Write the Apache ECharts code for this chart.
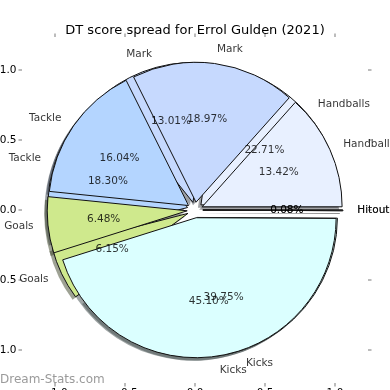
<!DOCTYPE html>
<html><head><meta charset="utf-8">
<script src="https://cdn.jsdelivr.net/npm/echarts@6/dist/echarts.min.js"></script>
<style>html,body{margin:0;padding:0;background:#fff}#c{width:390px;height:390px}</style>
</head><body><div id="c"></div>
<script>
const titleText = 'DT score spread for Errol Gulden (2021)';
const categoriesA = ['Handballs', 'Mark', 'Tackle', 'Goals', 'Kicks', 'Hitout'];
const valuesA = [22.71, 13.01, 18.30, 6.15, 39.75, 0.08];
const categoriesB = ['Handball', 'Mark', 'Tackle', 'Goals', 'Kicks', 'Hitout'];
const valuesB = [13.42, 18.97, 16.04, 6.48, 45.10, 0.08];
const sliceColors = ['#e8f0ff', '#c6d9fe', '#b4d5ff', '#cfe98d', '#dbffff', '#eeeeee'];
const tickValues = [-1.0, -0.5, 0.0, 0.5, 1.0];
const watermarkText = 'Dream-Stats.com';

const FONT = 'DejaVu Sans';
const AX_LIM = 1.236;       // axis half-extent
const EXPLODE = 0.056;      // explode distance in axis units
const LABEL_DIST = 1.1;     // name label distance (radius units)
const PCT_DIST = 0.6;       // percentage label distance
const SH = 3;               // shadow offset px

function darken(hex) {
  const n = parseInt(hex.slice(1), 16);
  const r = Math.round(((n >> 16) & 255) * 0.3), g = Math.round(((n >> 8) & 255) * 0.3), b = Math.round((n & 255) * 0.3);
  return 'rgba(' + r + ',' + g + ',' + b + ',0.5)';
}
function fmtTick(v) { return (v < 0 ? '\u2212' : '') + Math.abs(v).toFixed(1); }

const tickStyle = { show: true, length: 3.5, inside: false, customValues: tickValues, lineStyle: { color: '#bcbcbc', width: 2 } };
function axis(pos, isX, showLabels) {
  return {
    type: 'value', position: pos, gridIndex: 0,
    min: -AX_LIM, max: AX_LIM,
    axisLine: { show: true, onZero: false, lineStyle: { color: 'rgba(0,0,0,0)', width: 0 } },
    splitLine: { show: false },
    axisTick: tickStyle,
    axisLabel: showLabels ? { show: true, customValues: tickValues, formatter: fmtTick, color: '#000', fontSize: 10.5, fontFamily: FONT, margin: isX ? 4.5 : 5.5 } : { show: false }
  };
}

const chart = echarts.init(document.getElementById('c'), null, { renderer: 'canvas' });
chart.setOption({
  backgroundColor: '#fff',
  animation: false,
  title: { text: titleText, left: 'center', top: 19, textStyle: { fontFamily: FONT, fontSize: 13, fontWeight: 'normal', color: '#000' } },
  grid: { left: 22, right: 22, top: 37, bottom: 7, containLabel: false, outerBoundsMode: 'none', show: false },
  xAxis: [axis('bottom', true, true), axis('top', true, false)],
  yAxis: [axis('left', false, true), axis('right', false, false)],
  graphic: [{ type: 'text', left: 0, top: 374, silent: true, style: { text: watermarkText, fontSize: 12, fontFamily: FONT, fill: 'rgba(120,120,120,0.75)' } }]
});

// pie geometry derived from the axis scale (pie centred at data (0,0), radius 1)
const C0 = chart.convertToPixel({ gridIndex: 0 }, [0, 0]);
const C1 = chart.convertToPixel({ gridIndex: 0 }, [1, 0]);
const R = C1[0] - C0[0];

function basePie(cats, vals, extra, itemFn) {
  return Object.assign({
    type: 'pie', center: [C0[0], C0[1]], radius: R, startAngle: 0, clockwise: false,
    selectedMode: 'multiple', selectedOffset: EXPLODE * R, avoidLabelOverlap: false,
    animation: false, silent: true, emphasis: { disabled: true }, minAngle: 0,
    labelLine: { show: false }, label: { show: false },
    data: cats.map((n, i) => Object.assign({ name: n, value: vals[i], selected: true }, itemFn(i)))
  }, extra);
}
function wedgeItem(i) {
  const st = { color: sliceColors[i], borderColor: '#111', borderWidth: 1 };
  return { itemStyle: st, select: { itemStyle: st } };
}
function shadowItem(i) {
  const st = { color: darken(sliceColors[i]), borderWidth: 0 };
  return { itemStyle: st, select: { itemStyle: st } };
}

// label anchor points in axis units, computed from the slice values (matplotlib-style placement)
function labelPoints(cats, vals, dist, isName) {
  const total = vals.reduce((a, b) => a + b, 0);
  let cum = 0;
  return vals.map((v, i) => {
    const t1 = cum / total * 360; cum += v; const t2 = cum / total * 360;
    const mid = (t1 + t2) / 2 * Math.PI / 180;
    const ex = EXPLODE * Math.cos(mid), ey = EXPLODE * Math.sin(mid);
    const x = ex + dist * Math.cos(mid), y = ey + dist * Math.sin(mid);
    const text = isName ? cats[i] : v.toFixed(2) + '%';
    return {
      name: cats[i], value: [x, y],
      label: { formatter: text, position: isName ? (x > 0 ? 'right' : 'left') : 'inside', distance: 0 }
    };
  });
}
function labelSeries(cats, vals, dist, isName) {
  return {
    type: 'scatter', xAxisIndex: 0, yAxisIndex: 0, symbol: 'circle', symbolSize: 1, clip: false,
    itemStyle: { color: 'rgba(0,0,0,0)' }, silent: true, animation: false, z: 10,
    emphasis: { disabled: true },
    label: { show: true, color: '#000', fontSize: 10.5, fontFamily: FONT, verticalAlign: 'middle' },
    data: labelPoints(cats, vals, dist, isName)
  };
}

chart.setOption({
  series: [
    basePie(categoriesA, valuesA, { z: 1, center: [C0[0] - SH, C0[1] + SH] }, shadowItem),
    basePie(categoriesB, valuesB, { z: 1, center: [C0[0] - SH, C0[1] + SH] }, shadowItem),
    basePie(categoriesA, valuesA, { z: 2 }, wedgeItem),
    basePie(categoriesB, valuesB, { z: 3 }, wedgeItem),
    labelSeries(categoriesA, valuesA, LABEL_DIST, true),
    labelSeries(categoriesB, valuesB, LABEL_DIST, true),
    labelSeries(categoriesA, valuesA, PCT_DIST, false),
    labelSeries(categoriesB, valuesB, PCT_DIST, false)
  ]
});
</script></body></html>
